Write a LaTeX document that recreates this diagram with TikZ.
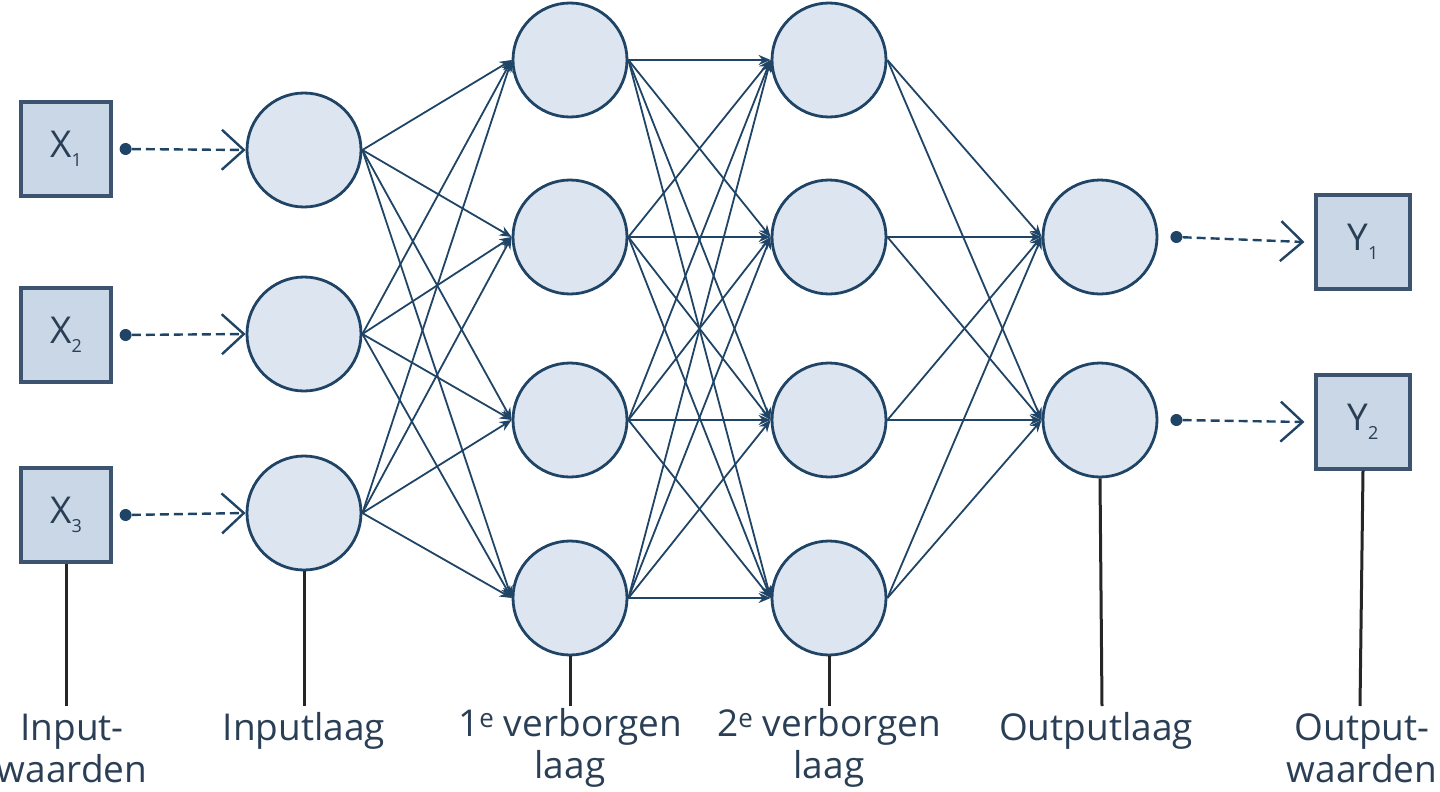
\documentclass[tikz,border=0pt]{standalone}
\usepackage{fontspec}
\setmainfont{Open Sans}
\usetikzlibrary{arrows.meta,calc}
\definecolor{ln}{HTML}{1F4466}
\definecolor{cf}{HTML}{DDE6F0}
\definecolor{bf}{HTML}{C9D7E7}
\definecolor{bl}{HTML}{3C5470}
\definecolor{tx}{HTML}{2A3F55}
\tikzset{
 neuron/.style={circle,draw=ln,fill=cf,line width=2.8pt,minimum size=114pt,inner sep=0pt},
 valbox/.style={draw=bl,fill=bf,line width=3.2pt,minimum width=90pt,minimum height=94pt,inner sep=0pt,text=tx,font=\fontsize{37}{37}\selectfont},
 conn/.style={draw=ln,line width=1.8pt,-{Stealth[length=12pt,width=10pt]}},
 dashc/.style={draw=ln,line width=2.4pt,dash pattern=on 9pt off 5pt,-{Straight Barb[length=22pt,width=40pt,line width=2.4pt]}},
 dotc/.style={circle,fill=ln,inner sep=0pt,minimum size=12pt},
 stem/.style={draw=black!85,line width=3pt},
 lbl/.style={text=tx,font=\fontsize{37}{42}\selectfont,align=center}
}
\begin{document}
\begin{tikzpicture}[x=1pt,y=-1pt]
\useasboundingbox (0,0) rectangle (1440,792);
\node[valbox] (x1) at (66,149) {X\raisebox{-9pt}{\fontsize{18}{18}\selectfont 1}};
\node[valbox] (x2) at (66,335) {X\raisebox{-9pt}{\fontsize{18}{18}\selectfont 2}};
\node[valbox] (x3) at (66,515) {X\raisebox{-9pt}{\fontsize{18}{18}\selectfont 3}};
\node[valbox,minimum width=94pt] (y1) at (1363,242) {Y\raisebox{-9pt}{\fontsize{18}{18}\selectfont 1}};
\node[valbox,minimum width=94pt] (y2) at (1363,422) {Y\raisebox{-9pt}{\fontsize{18}{18}\selectfont 2}};
\foreach \i/\y in {1/150,2/334,3/513} \node[neuron] (a\i) at (304,\y) {};
\foreach \i/\y in {1/60,2/237,3/420,4/598} \node[neuron] (b\i) at (570,\y) {};
\foreach \i/\y in {1/60,2/237,3/420,4/598} \node[neuron] (c\i) at (829,\y) {};
\foreach \i/\y in {1/237,2/420} \node[neuron] (d\i) at (1100,\y) {};
\foreach \i in {1,2,3} \foreach \j in {1,2,3,4} \draw[conn] (a\i.east) -- (b\j.west);
\foreach \i in {1,2,3,4} \foreach \j in {1,2,3,4} \draw[conn] (b\i.east) -- (c\j.west);
\foreach \i in {1,2,3,4} \foreach \j in {1,2} \draw[conn] (c\i.east) -- (d\j.west);
\foreach \i in {1,2,3} {
 \node[dotc] (p\i) at ($(x\i.east)+(13,0)$) {};
 \draw[dashc] (p\i) -- (a\i.west);
}
\foreach \i in {1,2} {
 \node[dotc] (q\i) at ($(d\i.east)+(18,0)$) {};
 \coordinate (r\i) at ($(y\i.west)+(-10,0)$);
 \draw[dashc] (q\i) -- (r\i);
}
\node[lbl] (l1) at (72,748) {Input-\\waarden};
\node[lbl] (l2) at (304,731) {Inputlaag};
\node[lbl] (l3) at (570,748) {1\textsuperscript{e} verborgen\\laag};
\node[lbl] (l4) at (829,748) {2\textsuperscript{e} verborgen\\laag};
\node[lbl] (l5) at (1096,731) {Outputlaag};
\node[lbl] (l6) at (1362,748) {Output-\\waarden};
\draw[stem] (x3.south) -- (66,706);
\draw[stem] (a3.south) -- (304,706);
\draw[stem] (b4.south) -- (570,706);
\draw[stem] (c4.south) -- (829,706);
\draw[stem] (d2.south) -- (1102,706);
\draw[stem] (y2.south) -- (1360,706);
\end{tikzpicture}
\end{document}
